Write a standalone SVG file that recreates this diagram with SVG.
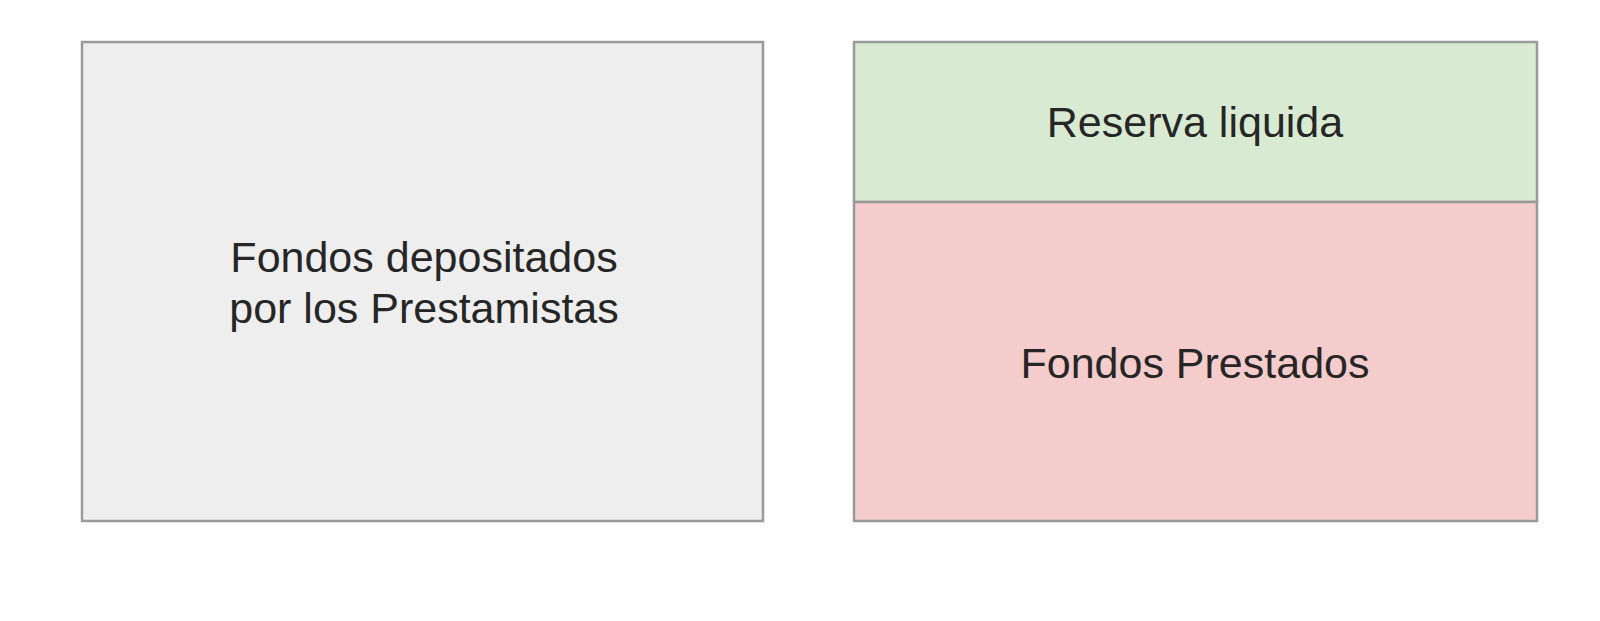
<svg xmlns="http://www.w3.org/2000/svg" width="1600" height="621" viewBox="0 0 1600 621">
<style>
.box{stroke:#9a9a9a;stroke-width:2.5}
.lbl{font-family:"Liberation Sans",Arial,sans-serif;font-size:43px;fill:#262626;text-anchor:middle}
</style>
<rect width="1600" height="621" fill="#ffffff"/>
<g id="fondos-depositados">
<rect class="box" x="82" y="42" width="681" height="479" fill="#eeeeee"/>
<text class="lbl" x="424" y="272">Fondos depositados</text>
<text class="lbl" x="424" y="323">por los Prestamistas</text>
</g>
<g id="reserva-liquida">
<rect class="box" x="854" y="42" width="683" height="160" fill="#d9ead3"/>
<text class="lbl" x="1195" y="137">Reserva liquida</text>
</g>
<g id="fondos-prestados">
<rect class="box" x="854" y="202" width="683" height="319" fill="#f4cccc"/>
<text class="lbl" x="1195" y="378">Fondos Prestados</text>
</g>
<g id="connectors"/>
</svg>
